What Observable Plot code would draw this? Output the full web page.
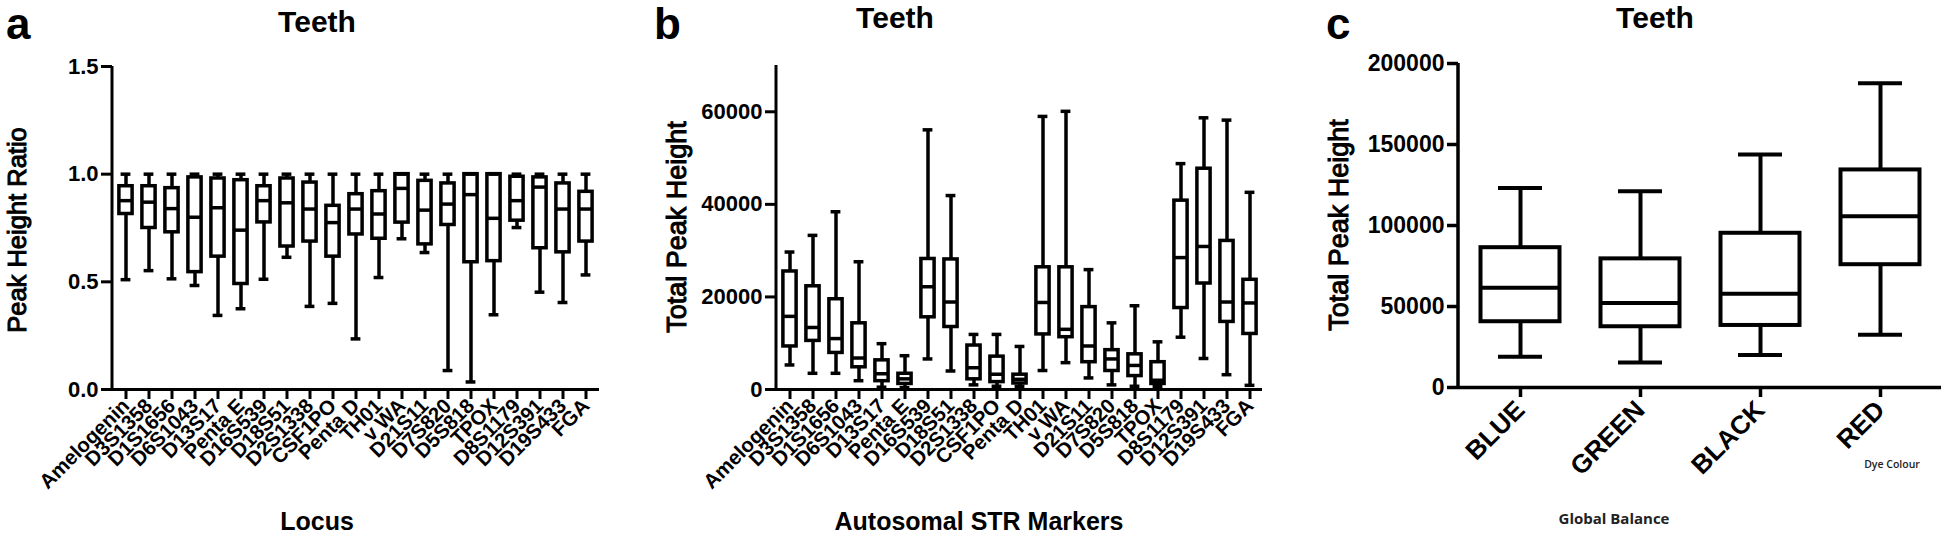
<!DOCTYPE html>
<html><head><meta charset="utf-8">
<script src="https://cdn.jsdelivr.net/npm/d3@7"></script>
<script src="https://cdn.jsdelivr.net/npm/@observablehq/plot@0.6"></script>
<style>
html,body{margin:0;padding:0;background:#fff;}
#root{position:relative;width:1946px;height:535px;overflow:hidden;background:#fff;}
#root svg.plotpanel{position:absolute;top:0;}
#overlay{position:absolute;left:0;top:0;pointer-events:none;}
</style></head>
<body><div id="root"></div>
<script>
// ---------- data ----------
const loci = ["Amelogenin","D3S1358","D1S1656","D6S1043","D13S17","Penta E","D16S539","D18S51","D2S1338","CSF1PO","Penta D","TH01","v WA","D21S11","D7S820","D5S818","TPOX","D8S1179","D12S391","D19S433","FGA"];

// panel a: peak height ratio
const ratioLow  = [0.51,0.552,0.514,0.483,0.344,0.375,0.512,0.614,0.386,0.40,0.235,0.52,0.70,0.636,0.088,0.035,0.347,0.752,0.452,0.404,0.532];
const ratioQ1   = [0.815,0.75,0.73,0.545,0.617,0.49,0.776,0.664,0.687,0.617,0.72,0.70,0.775,0.674,0.764,0.591,0.596,0.784,0.656,0.637,0.687];
const ratioMed  = [0.877,0.87,0.84,0.80,0.844,0.74,0.877,0.867,0.838,0.775,0.838,0.815,0.934,0.833,0.861,0.905,0.795,0.877,0.94,0.838,0.838];
const ratioQ3   = [0.944,0.944,0.935,0.985,0.98,0.972,0.944,0.98,0.961,0.853,0.907,0.921,1.0,0.969,0.957,1.0,1.0,0.988,0.985,0.957,0.918];
const ratioHigh = [1,1,1,1,1,1,1,1,1,1,1,1,1,1,1,1,1,1,1,1,1];
const ratioTicks = [0, 0.5, 1.0, 1.5];

// panel b: total peak height per marker
const tphLow  = [5300,3500,3500,1900,500,400,6600,4000,1000,700,700,4100,5800,2500,1000,700,700,11300,6700,3200,900];
const tphQ1   = [9300,10500,7900,4800,1800,1200,15600,13500,2200,1600,1300,11900,11300,5900,4000,2900,1200,17600,22900,14600,12000];
const tphMed  = [15800,13400,11000,6800,3400,2300,22200,18900,4700,3300,2200,18800,13000,9400,6600,5200,2000,28500,30900,18900,18700];
const tphQ3   = [25500,22300,19500,14300,6300,3400,28200,28100,9500,7100,3200,26400,26400,17800,8500,7600,5900,40800,47700,32100,23700];
const tphHigh = [29700,33300,38400,27600,9900,7300,56100,41900,11900,11900,9300,59000,60100,25900,14400,18100,10300,48800,58700,58200,42600];
const tphTicks = [0, 20000, 40000, 60000];

// panel c: global balance by dye colour
const dyes = ["BLUE","GREEN","BLACK","RED"];
const dyeLow  = [19000,15400,20000,32600];
const dyeQ1   = [40600,37500,38300,75800];
const dyeMed  = [61500,52200,57900,105700];
const dyeQ3   = [86300,79400,95200,134300];
const dyeHigh = [123200,121100,143800,187800];
const dyeTicks = [0, 50000, 100000, 150000, 200000];

// ---------- drawing ----------
const FONT = "'Liberation Sans', Arial, Helvetica, sans-serif";
const root = document.getElementById("root");

function boxPanel(o) {
  const data = o.names.map((n, i) => ({n, lo: o.lo[i], q1: o.q1[i], med: o.med[i], q3: o.q3[i], hi: o.hi[i]}));
  const sw = o.sw;
  const chart = Plot.plot({
    width: o.width, height: 535,
    marginLeft: o.marginLeft, marginRight: o.marginRight,
    marginTop: o.marginTop, marginBottom: o.marginBottom,
    style: {fontFamily: FONT, color: "#000", background: "transparent", overflow: "visible"},
    x: {type: "band", domain: o.names, padding: 0, axis: null},
    y: {domain: o.yDomain, axis: null},
    marks: [
      Plot.ruleX(data, {x: "n", y1: "lo", y2: "q1", strokeWidth: sw, stroke: "#000"}),
      Plot.ruleX(data, {x: "n", y1: "q3", y2: "hi", strokeWidth: sw, stroke: "#000"}),
      Plot.barY(data, {x: "n", y1: "q1", y2: "q3", fill: "white", stroke: "#000", strokeWidth: sw, insetLeft: o.boxInset, insetRight: o.boxInset}),
      Plot.tickY(data, {x: "n", y: "med", stroke: "#000", strokeWidth: sw, insetLeft: o.boxInset, insetRight: o.boxInset}),
      Plot.tickY(data, {x: "n", y: "hi", stroke: "#000", strokeWidth: sw, insetLeft: o.capInset, insetRight: o.capInset}),
      Plot.tickY(data, {x: "n", y: "lo", stroke: "#000", strokeWidth: sw, insetLeft: o.capInset, insetRight: o.capInset}),
      Plot.ruleY([o.yDomain[0]], {stroke: "#000", strokeWidth: o.axisW}),
      Plot.axisY({ticks: o.yTicks, tickFormat: o.tickFormat, tickSize: 11, tickPadding: 3, strokeWidth: o.axisW, fontSize: o.tickFont, fontWeight: "bold", label: null}),
      Plot.axisX({tickSize: 10, tickPadding: o.catPad, strokeWidth: o.axisW, tickRotate: -45, fontSize: o.catFont, fontWeight: "bold", label: null})
    ]
  });
  chart.classList.add("plotpanel");
  chart.style.left = o.left + "px";
  // y axis line drawn from the plot's own scales
  const ys = chart.scale("y");
  const xs = chart.scale("x");
  const x0 = xs.range[0];
  d3.select(chart).append("line")
    .attr("x1", x0).attr("x2", x0)
    .attr("y1", ys.apply(o.yDomain[0]) + o.axisW / 2)
    .attr("y2", ys.apply(o.yDomain[1]))
    .attr("stroke", "#000").attr("stroke-width", o.axisW);
  root.appendChild(chart);
  return chart;
}

boxPanel({
  names: loci, lo: ratioLow, q1: ratioQ1, med: ratioMed, q3: ratioQ3, hi: ratioHigh,
  left: 0, width: 620, marginLeft: 112, marginRight: 21, marginTop: 66, marginBottom: 146,
  yDomain: [0, 1.5], yTicks: ratioTicks, tickFormat: d => d.toFixed(1),
  sw: 3.5, axisW: 3, boxInset: 4.9, capInset: 6.6, tickFont: 22, catFont: 20.5, catPad: 3
});
boxPanel({
  names: loci, lo: tphLow, q1: tphQ1, med: tphMed, q3: tphQ3, hi: tphHigh,
  left: 650, width: 625, marginLeft: 126, marginRight: 13, marginTop: 65, marginBottom: 146,
  yDomain: [0, 70000], yTicks: tphTicks, tickFormat: d => String(d),
  sw: 3.5, axisW: 3, boxInset: 4.9, capInset: 6.6, tickFont: 22, catFont: 20.5, catPad: 3
});
boxPanel({
  names: dyes, lo: dyeLow, q1: dyeQ1, med: dyeMed, q3: dyeQ3, hi: dyeHigh,
  left: 1280, width: 666, marginLeft: 178, marginRight: 5, marginTop: 63, marginBottom: 148,
  yDomain: [0, 200000], yTicks: dyeTicks, tickFormat: d => String(d),
  sw: 4, axisW: 3.5, boxInset: 20.5, capInset: 38, tickFont: 23, catFont: 26, catPad: 8
});

// ---------- text overlay ----------
const ov = d3.select(root).append("svg").attr("id", "overlay")
  .attr("width", 1946).attr("height", 535).style("font-family", FONT);
const texts = [
  {t: "a", x: 6, y: 39, s: 44, w: "bold", a: "start"},
  {t: "b", x: 654, y: 39, s: 44, w: "bold", a: "start"},
  {t: "c", x: 1326, y: 39, s: 44, w: "bold", a: "start"},
  {t: "Teeth", x: 317, y: 32, s: 30, w: "bold", a: "middle"},
  {t: "Teeth", x: 895, y: 28, s: 30, w: "bold", a: "middle"},
  {t: "Teeth", x: 1655, y: 28, s: 30, w: "bold", a: "middle"},
  {t: "Locus", x: 317, y: 530, s: 25, w: "bold", a: "middle"},
  {t: "Autosomal STR Markers", x: 979, y: 530, s: 25, w: "bold", a: "middle"},
  {t: "Peak Height Ratio", x: 26, y: 230, s: 25.5, w: "normal", a: "middle", r: -90, st: 1},
  {t: "Total Peak Height", x: 686, y: 227, s: 27, w: "normal", a: "middle", r: -90, st: 1},
  {t: "Total Peak Height", x: 1348, y: 225, s: 27, w: "normal", a: "middle", r: -90, st: 1},
  {t: "Global Balance", x: 1614, y: 524, s: 15, w: "bold", a: "middle", f: "'Open Sans', sans-serif", c: "#222"},
  {t: "Dye Colour", x: 1892, y: 468, s: 10.5, w: "600", a: "middle", f: "'Open Sans', sans-serif", c: "#222"}
];
for (const d of texts) {
  const el = ov.append("text").text(d.t)
    .attr("font-size", d.s).attr("font-weight", d.w).attr("text-anchor", d.a)
    .attr("fill", d.c || "#000")
    .attr("transform", `translate(${d.x},${d.y})` + (d.r ? ` rotate(${d.r})` : ""));
  if (d.f) el.attr("font-family", d.f);
  if (d.st) el.attr("stroke", "#000").attr("stroke-width", d.st);
}
</script>
</body></html>
